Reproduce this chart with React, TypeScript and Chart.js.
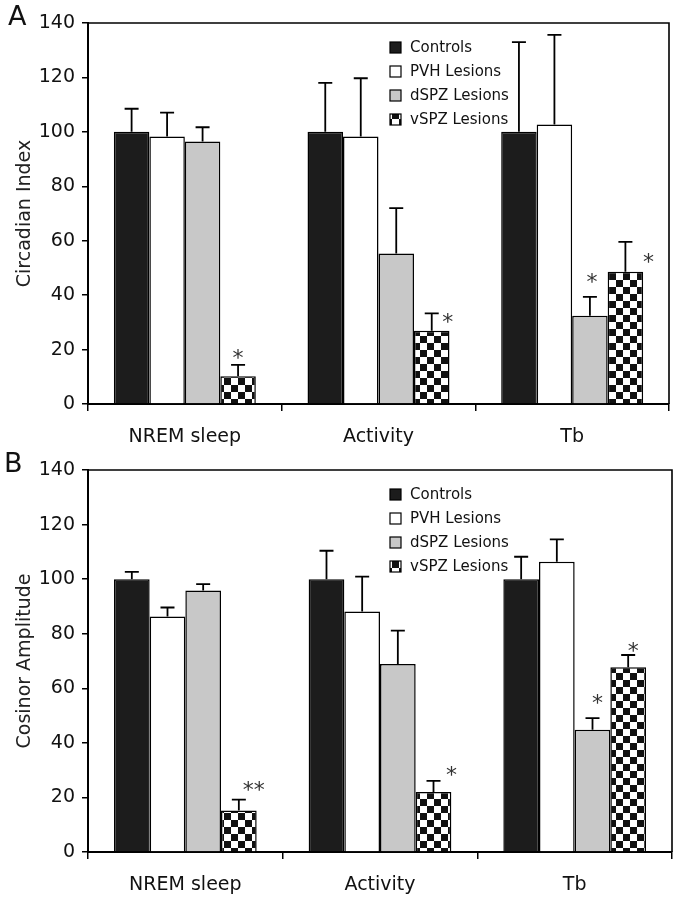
import React, { useEffect, useRef } from 'react';
import { Chart, registerables } from 'chart.js';

Chart.register(...registerables);

const FONT = "'DejaVu Sans', Verdana, sans-serif";

// ---- data ----
const categories = ['NREM sleep', 'Activity', 'Tb'];
const seriesLabels = ['Controls', 'PVH Lesions', 'dSPZ Lesions', 'vSPZ Lesions'];
const yMin = 0;
const yMax = 140;
const yStep = 20;

// Panel A: Circadian Index
const circControls = [100, 100, 100];
const circPvh = [98.3, 98.3, 102.7];
const circDspz = [96.5, 55.3, 32.4];
const circVspz = [10.2, 26.9, 48.6];
const circControlsErr = [8.5, 18, 33];
const circPvhErr = [8.8, 21.4, 32.9];
const circDspzErr = [5.2, 16.7, 7];
const circVspzErr = [4.2, 6.4, 11];

// Panel B: Cosinor Amplitude
const cosControls = [100, 100, 100];
const cosPvh = [86.3, 88.1, 106.4];
const cosDspz = [95.8, 68.9, 44.8];
const cosVspz = [15.2, 22, 67.7];
const cosControlsErr = [2.7, 10.4, 8.2];
const cosPvhErr = [3.3, 12.8, 8.2];
const cosDspzErr = [2.4, 12.2, 4.3];
const cosVspzErr = [4, 4.1, 4.5];

// significance marks: [category index, series index, text]
const circMarks: [number, number, string][] = [
  [0, 3, '*'],
  [1, 3, '*'],
  [2, 2, '*'],
  [2, 3, '*'],
];
const cosMarks: [number, number, string][] = [
  [0, 3, '**'],
  [1, 3, '*'],
  [2, 2, '*'],
  [2, 3, '*'],
];

// ---- styling (offsets of marks relative to the error-bar cap) ----
const circMarkOffsets = [
  [0, -12],
  [16, 3],
  [2, -20],
  [23, 15],
];
const cosMarkOffsets = [
  [15, -15],
  [18, -11],
  [5, -20],
  [5, -9],
];

function makeChecker(): CanvasPattern | string {
  const c = document.createElement('canvas');
  c.width = 14;
  c.height = 14;
  const g = c.getContext('2d');
  if (!g) return '#000';
  g.fillStyle = '#fff';
  g.fillRect(0, 0, 14, 14);
  g.fillStyle = '#111';
  g.fillRect(0, 0, 7, 7);
  g.fillRect(7, 7, 7, 7);
  const p = g.createPattern(c, 'repeat');
  return p || '#000';
}

type PanelProps = {
  top: number;
  height: number;
  letter: string;
  letterX: number;
  letterBase: number;
  title: string;
  padTop: number;
  padRight: number;
  xAxisH: number;
  values: number[][];
  errors: number[][];
  marks: [number, number, string][];
  markOffsets: number[][];
};

function Panel(props: PanelProps) {
  const ref = useRef<HTMLCanvasElement | null>(null);

  useEffect(() => {
    const canvas = ref.current;
    if (!canvas) return;
    const checker = makeChecker();
    const fills: (string | CanvasPattern)[] = ['#1c1c1c', '#ffffff', '#c8c8c8', checker];

    const overlay = {
      id: 'overlay' + props.letter,
      afterDatasetsDraw(chart: any) {
        const ctx = chart.ctx as CanvasRenderingContext2D;
        const area = chart.chartArea;
        const ys = chart.scales.y;
        ctx.save();
        // error bars
        ctx.strokeStyle = '#000';
        ctx.lineWidth = 1.8;
        props.values.forEach((vals, si) => {
          const meta = chart.getDatasetMeta(si);
          vals.forEach((v, ci) => {
            const bar = meta.data[ci];
            const x = bar.x;
            const y0 = ys.getPixelForValue(v);
            const y1 = ys.getPixelForValue(v + props.errors[si][ci]);
            ctx.beginPath();
            ctx.moveTo(x, y0);
            ctx.lineTo(x, y1);
            ctx.moveTo(x - 7, y1);
            ctx.lineTo(x + 7, y1);
            ctx.stroke();
          });
        });
        // significance marks
        ctx.fillStyle = '#333';
        ctx.font = `22px ${FONT}`;
        ctx.textAlign = 'center';
        ctx.textBaseline = 'alphabetic';
        props.marks.forEach(([ci, si, text], k) => {
          const bar = chart.getDatasetMeta(si).data[ci];
          const v = props.values[si][ci] + props.errors[si][ci];
          const cy = ys.getPixelForValue(v) + props.markOffsets[k][1];
          const cx = bar.x + props.markOffsets[k][0];
          ctx.fillText(text, cx, cy + 0.56 * 22);
        });
        // frame top & right
        ctx.strokeStyle = '#000';
        ctx.lineWidth = 1.6;
        ctx.beginPath();
        ctx.moveTo(area.left, area.top);
        ctx.lineTo(area.right, area.top);
        ctx.lineTo(area.right, area.bottom);
        ctx.stroke();
        // legend
        const bx = area.left + 302;
        const tx = area.left + 322;
        const ly = area.top + 24.5;
        ctx.font = `15px ${FONT}`;
        ctx.textAlign = 'left';
        ctx.textBaseline = 'middle';
        seriesLabels.forEach((lab, i) => {
          const y = ly + i * 24;
          ctx.fillStyle = fills[i] as any;
          ctx.fillRect(bx, y - 5.5, 11, 11);
          ctx.lineWidth = 1.2;
          ctx.strokeStyle = '#000';
          ctx.strokeRect(bx, y - 5.5, 11, 11);
          ctx.fillStyle = '#111';
          ctx.fillText(lab, tx, y + 1);
        });
        // panel letter
        ctx.font = `27px ${FONT}`;
        ctx.textBaseline = 'alphabetic';
        ctx.fillStyle = '#111';
        ctx.fillText(props.letter, props.letterX, props.letterBase);
        ctx.restore();
      },
    };

    const chart = new Chart(canvas, {
      type: 'bar',
      data: {
        labels: categories,
        datasets: seriesLabels.map((lab, i) => ({
          label: lab,
          data: props.values[i],
          backgroundColor: fills[i] as any,
          borderColor: '#000',
          borderWidth: 1.5,
          categoryPercentage: 0.733,
          barPercentage: 1.0,
        })),
      },
      options: {
        responsive: false,
        animation: false,
        events: [],
        layout: { padding: { left: 0, right: props.padRight, top: props.padTop, bottom: 0 } },
        plugins: { legend: { display: false }, tooltip: { enabled: false } },
        scales: {
          x: {
            grid: {
              display: true,
              drawOnChartArea: false,
              drawTicks: true,
              tickLength: 7,
              color: '#000',
              lineWidth: 1.5,
              offset: true,
            },
            border: { display: true, color: '#000', width: 2 },
            ticks: {
              color: '#111',
              font: { family: FONT, size: 19 },
              padding: 15,
              maxRotation: 0,
              autoSkip: false,
            },
            afterFit: (s: any) => {
              s.height = props.xAxisH;
            },
          },
          y: {
            min: yMin,
            max: yMax,
            ticks: { stepSize: yStep, color: '#111', font: { family: FONT, size: 19 }, padding: 7 },
            grid: { drawOnChartArea: false, drawTicks: true, tickLength: 6, color: '#000', lineWidth: 1.5 },
            border: { display: true, color: '#000', width: 2 },
            title: {
              display: true,
              text: props.title,
              color: '#222',
              font: { family: FONT, size: 19 },
              padding: { top: 14, bottom: 0 },
            },
            afterFit: (s: any) => {
              s.width = 88;
            },
          },
        },
      },
      plugins: [overlay],
    });
    return () => chart.destroy();
  }, []);

  return (
    <canvas
      ref={ref}
      width={677}
      height={props.height}
      style={{ position: 'absolute', left: 0, top: props.top, display: 'block' }}
    />
  );
}

export default function App() {
  return (
    <div style={{ position: 'absolute', left: 0, top: 0, width: 677, height: 899, background: '#fff' }}>
      <Panel
        top={0}
        height={449}
        letter="A"
        letterX={8}
        letterBase={25}
        title="Circadian Index"
        padTop={23}
        padRight={8}
        xAxisH={45}
        values={[circControls, circPvh, circDspz, circVspz]}
        errors={[circControlsErr, circPvhErr, circDspzErr, circVspzErr]}
        marks={circMarks}
        markOffsets={circMarkOffsets}
      />
      <Panel
        top={449}
        height={450}
        letter="B"
        letterX={4}
        letterBase={23}
        title="Cosinor Amplitude"
        padTop={21}
        padRight={5}
        xAxisH={47}
        values={[cosControls, cosPvh, cosDspz, cosVspz]}
        errors={[cosControlsErr, cosPvhErr, cosDspzErr, cosVspzErr]}
        marks={cosMarks}
        markOffsets={cosMarkOffsets}
      />
    </div>
  );
}
